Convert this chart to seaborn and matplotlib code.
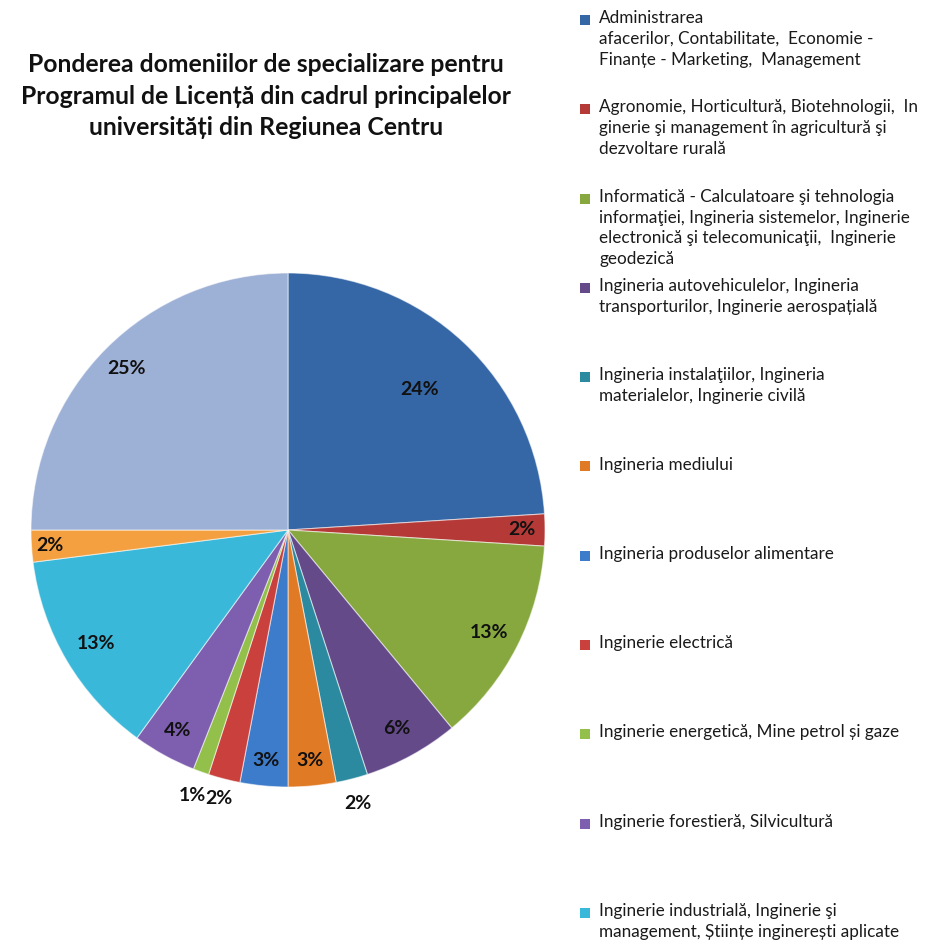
import matplotlib
matplotlib.use("Agg")
import numpy as np
import matplotlib.pyplot as plt
import seaborn as sns
from matplotlib.patches import Rectangle

# === 1. Data ===
values = [24, 2, 13, 6, 2, 3, 3, 2, 1, 4, 13, 2, 25]
slice_colors = ["#3566A5", "#B53A37", "#86A83F", "#654A8A", "#2C8AA0", "#E07A25",
                "#3D7CCB", "#C9403C", "#92C04A", "#7E5EAE", "#3AB8DA", "#F4A040",
                "#9DB0D6"]
# label distance from centre, as a fraction of the radius
label_dist = [0.75, 0.91, 0.88, 0.88, 1.10, 0.90, 0.90, 1.08, 1.10, 0.89, 0.87, 0.93, 0.89]

legend_labels = [
    "Administrarea\nafacerilor, Contabilitate,  Economie -\nFinanțe - Marketing,  Management",
    "Agronomie, Horticultură, Biotehnologii,  In\nginerie şi management în agricultură şi\ndezvoltare rurală",
    "Informatică - Calculatoare şi tehnologia\ninformaţiei, Ingineria sistemelor, Inginerie\nelectronică şi telecomunicaţii,  Inginerie\ngeodezică",
    "Ingineria autovehiculelor, Ingineria\ntransporturilor, Inginerie aerospațială",
    "Ingineria instalaţiilor, Ingineria\nmaterialelor, Inginerie civilă",
    "Ingineria mediului",
    "Ingineria produselor alimentare",
    "Inginerie electrică",
    "Inginerie energetică, Mine petrol și gaze",
    "Inginerie forestieră, Silvicultură",
    "Inginerie industrială, Inginerie şi\nmanagement, Științe inginerești aplicate",
]

title = ("Ponderea domeniilor de specializare pentru\n"
         "Programul de Licență din cadrul principalelor\n"
         "universități din Regiunea Centru")

# === 2. Style ===
sns.set_theme(style="white")
plt.rcParams["font.family"] = ["Lato", "DejaVu Sans"]

W, H = 934, 947
fig = plt.figure(figsize=(W / 100, H / 100), dpi=100)

# === 3. Pie ===
cx, cy, r = 288, 530, 257
ax = fig.add_axes([(cx - r) / W, 1 - (cy + r) / H, 2 * r / W, 2 * r / H])
wedges, texts, autotexts = ax.pie(
    values, colors=slice_colors, startangle=90, counterclock=False,
    autopct="%1.0f%%", pctdistance=0.8, radius=1,
    wedgeprops=dict(edgecolor=(1, 1, 1, 0.55), linewidth=0.8),
    textprops=dict(fontsize=14, fontweight="bold", color="#111111"))
for t, d in zip(autotexts, label_dist):
    x, y = t.get_position()
    t.set_position((x * d / 0.8, y * d / 0.8))
ax.set_xlim(-1, 1)
ax.set_ylim(-1, 1)
ax.set_aspect("equal")
ax.axis("off")

# === 4. Title ===
fig.text(266 / W, 1 - 53 / H, title, ha="center", va="top", fontsize=17.8,
         fontweight="bold", color="#111111", linespacing=1.45)

# === 5. Legend (Excel style, fixed pitch) ===
pitch = 89.3
for i, lab in enumerate(legend_labels):
    yc = 20 + i * pitch
    fig.patches.append(Rectangle((580 / W, 1 - (yc + 5) / H), 10 / W, 10 / H,
                                 transform=fig.transFigure, facecolor=slice_colors[i],
                                 edgecolor="none"))
    fig.text(599 / W, 1 - (yc - 10) / H, lab, ha="left", va="top", fontsize=12.3,
             color="#1a1a1a", linespacing=1.38)

plt.savefig("out.png", dpi=100)
